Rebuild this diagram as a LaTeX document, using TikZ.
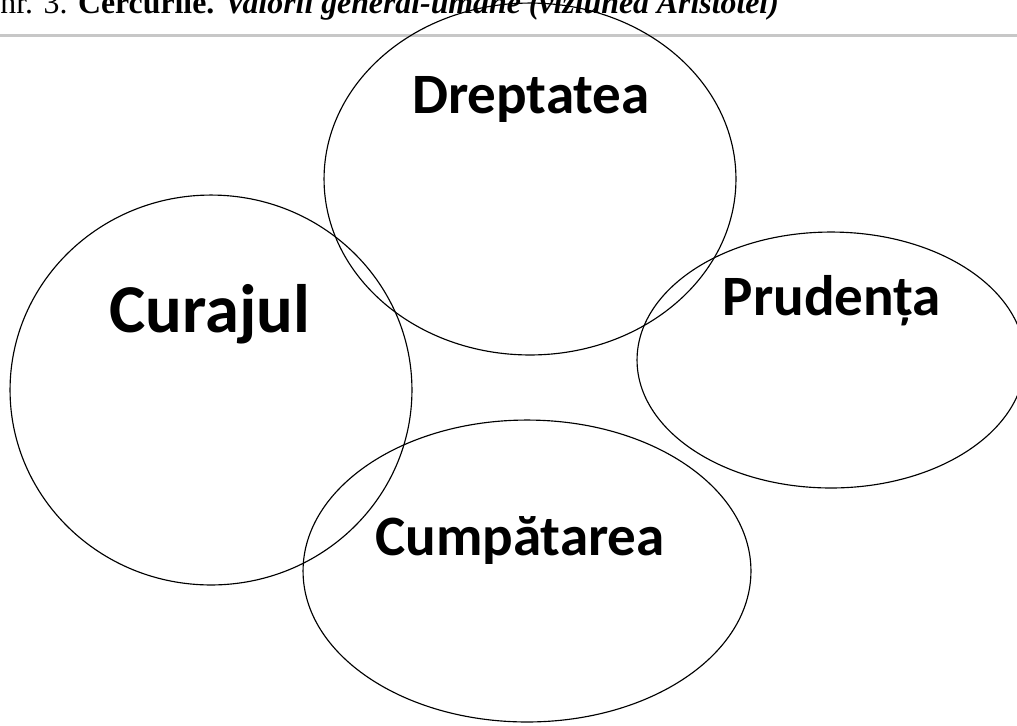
\documentclass[tikz,border=0pt]{standalone}
\usepackage{fontspec}
\setmainfont{Liberation Serif}
\newfontfamily\calfont{Carlito}
\usetikzlibrary{shapes.geometric}

\begin{document}
\begin{tikzpicture}[x=0.02cm, y=-0.02cm,
  ring/.style={ellipse, draw=black, line width=0.65pt, inner sep=0pt},
  virtue/.style={font=\calfont\bfseries\fontsize{32.5}{38}\selectfont, anchor=base, inner sep=0pt}
]
\useasboundingbox (0,0) rectangle (1017,725);

% caption and rule, cut at the top of the page
\node[anchor=base west, inner sep=0pt, font=\fontsize{18.1}{22}\selectfont] (caption) at (0,13)
  {nr. 3. \textbf{Cercurile.} \textbf{\textit{Valorii general-umane (viziunea Aristotel)}}};
\coordinate (ruleL) at (0,35.5);
\coordinate (ruleR) at (1017,35.5);
\draw[line width=1.4pt, black!22] (ruleL) -- (ruleR);

% the four circles
\node[ring, minimum width=8.24cm, minimum height=7.04cm] (dreptring) at (530,179) {};
\node[ring, minimum width=8.04cm, minimum height=7.80cm] (curajring) at (211,390) {};
\node[ring, minimum width=7.76cm, minimum height=5.12cm] (prudring) at (831,360) {};
\node[ring, minimum width=8.96cm, minimum height=6.04cm] (cumpring) at (527,571) {};

% labels
\node[virtue] (drept) at (531,113) {Dreptatea};
\node[virtue, font=\calfont\bfseries\fontsize{39}{44}\selectfont] (curaj) at (210,332) {Curajul};
\node[virtue] (prud) at (832,315) {Prudența};
\node[virtue] (cump) at (520,555) {Cumpătarea};
\end{tikzpicture}
\end{document}
